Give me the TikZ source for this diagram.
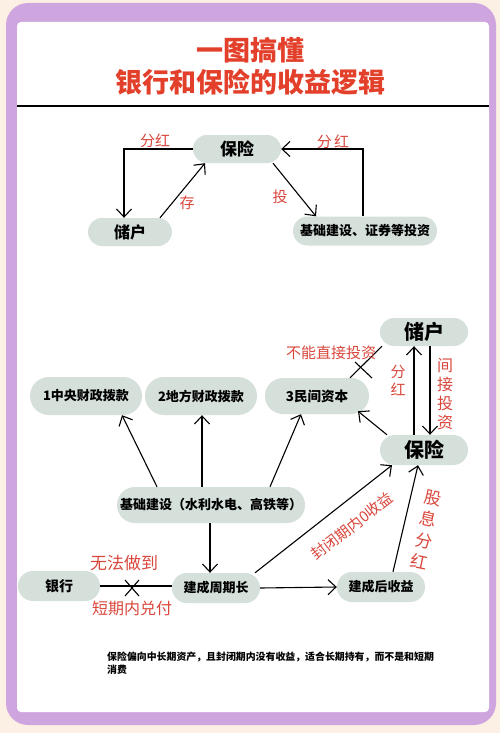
\documentclass[tikz,border=0pt]{standalone}
\usepackage{fontspec}
\newfontfamily\cjk{Noto Sans CJK SC}
\usetikzlibrary{arrows.meta}
\definecolor{cream}{HTML}{FCEFE3}
\definecolor{frame}{HTML}{CFA5E0}
\definecolor{nodefill}{HTML}{D5E0DB}
\definecolor{titlered}{HTML}{E3402B}
\definecolor{handred}{HTML}{D9473C}
\begin{document}
\begin{tikzpicture}[x=1pt,y=-1pt,
  pill/.style={fill=nodefill, inner sep=0pt, font=\cjk\bfseries, text=black},
  arr/.style={-{Straight Barb[length=8pt,width=15pt]}, line width=1.1pt},
  ln/.style={line width=1.1pt},
  hand/.style={text=handred, font=\cjk\fontsize{15}{19}\selectfont, inner sep=0pt},
  vhand/.style={hand, align=center}]
\useasboundingbox (0,0) rectangle (500,733);
% background
\fill[cream] (0,0) rectangle (500,733);
\fill[frame, rounded corners=22pt] (6,3) rectangle (496,725);
\fill[white, rounded corners=4pt] (17,22) rectangle (489,712);
\draw[line width=1.2pt] (17,106) -- (489,106);
% title
\node[text=titlered, font=\cjk\bfseries\fontsize{27}{32}\selectfont, inner sep=0pt] (t1) at (250,50) {一图搞懂};
\node[text=titlered, font=\cjk\bfseries\fontsize{27}{32}\selectfont, inner sep=0pt] (t2) at (250,82) {银行和保险的收益逻辑};

% ---- top diagram ----
\node[pill, minimum width=88pt, minimum height=28pt, rounded corners=13.9pt, font=\cjk\bfseries\fontsize{17}{20}\selectfont] (bx) at (237,149) {保险};
\node[pill, minimum width=84pt, minimum height=28pt, rounded corners=13.9pt, font=\cjk\bfseries\fontsize{16}{20}\selectfont] (ch) at (130,232) {储户};
\node[pill, minimum width=144pt, minimum height=29pt, rounded corners=14.4pt, font=\cjk\bfseries\fontsize{13}{16}\selectfont] (jc) at (365,231) {基础建设、证券等投资};

\draw[arr] (bx.west) -| ([xshift=-6pt]ch.north);
\draw[arr] ([xshift=30pt]ch.north) -- ([xshift=-32pt]bx.south);
\draw[arr] ([xshift=36pt]bx.south) -- ([xshift=-49pt]jc.north);
\draw[arr] ([xshift=-2pt]jc.north) |- (bx.east);

\node[hand] (l1) at (155,141) {分红};
\node[hand] (l2) at (333,142) {分\,红};
\node[hand] (l3) at (187,203) {存};
\node[hand] (l4) at (280,197) {投};

% ---- bottom diagram ----
\node[pill, minimum width=88pt, minimum height=28pt, rounded corners=13.9pt, font=\cjk\bfseries\fontsize{20}{24}\selectfont] (cu) at (424,332) {储户};
\node[pill, minimum width=88pt, minimum height=30pt, rounded corners=14.9pt, font=\cjk\bfseries\fontsize{20}{24}\selectfont] (bo) at (424,450) {保险};
\node[pill, minimum width=112pt, minimum height=38pt, rounded corners=18.9pt, font=\cjk\bfseries\fontsize{13}{16}\selectfont] (c1) at (86,396) {1中央财政拨款};
\node[pill, minimum width=112pt, minimum height=38pt, rounded corners=18.9pt, font=\cjk\bfseries\fontsize{13}{16}\selectfont] (c2) at (201,396) {2地方财政拨款};
\node[pill, minimum width=104pt, minimum height=36pt, rounded corners=17.9pt, font=\cjk\bfseries\fontsize{13.5}{16}\selectfont] (c3) at (317,396) {3民间资本};
\node[pill, minimum width=188pt, minimum height=36pt, rounded corners=17.9pt, font=\cjk\bfseries\fontsize{13}{16}\selectfont] (jj) at (211,505) {基础建设（水利水电、高铁等）};
\node[pill, minimum width=82pt, minimum height=30pt, rounded corners=14.9pt, font=\cjk\bfseries\fontsize{14}{16}\selectfont] (yh) at (59,586) {银行};
\node[pill, minimum width=88pt, minimum height=30pt, rounded corners=14.9pt, font=\cjk\bfseries\fontsize{13}{16}\selectfont] (zq) at (216,588) {建成周期长};
\node[pill, minimum width=88pt, minimum height=30pt, rounded corners=14.9pt, font=\cjk\bfseries\fontsize{13}{16}\selectfont] (sy) at (381,587) {建成后收益};

\draw[arr] ([xshift=-54pt]jj.north) -- ([xshift=36pt]c1.south);
\draw[arr] ([xshift=-9pt]jj.north) -- ([xshift=1pt]c2.south);
\draw[arr] ([xshift=59pt]jj.north) -- ([xshift=-16pt]c3.south);
\draw[arr] ([xshift=-37pt]bo.north) -- ([xshift=41pt,yshift=3pt]c3.south);
\draw[ln] ([xshift=33pt]c3.north) -- ([xshift=-42pt]cu.south);
\coordinate (x1) at (363,370);
\draw[ln] ([xshift=-8pt,yshift=8pt]x1) -- ([xshift=9pt,yshift=-8pt]x1);
\draw[arr] ([xshift=-10pt]bo.north) -- ([xshift=-10pt]cu.south);
\draw[arr] ([xshift=6pt]cu.south) -- ([xshift=6pt]bo.north);
\draw[arr] ([xshift=-1pt]jj.south) -- ([xshift=-6pt]zq.north);
\draw[ln] (yh.east) -- (yh.east -| zq.west);
\coordinate (x2) at (132,588);
\draw[ln] ([xshift=-7pt,yshift=8pt]x2) -- ([xshift=7pt,yshift=-8pt]x2);
\draw[ln] ([xshift=-7pt,yshift=-8pt]x2) -- ([xshift=7pt,yshift=8pt]x2);
\draw[arr] (zq.east) -- (sy.west);
\draw[arr] ([xshift=39pt]zq.north) -- ([xshift=-32pt]bo.south);
\draw[arr] ([xshift=12pt]sy.north) -- ([xshift=-6pt]bo.south);

\node[hand] (l5) at (331,353) {不能直接投资};
\node[vhand, font=\cjk\fontsize{15}{18}\selectfont] (l6) at (398,381) {分\\红};
\node[vhand, font=\cjk\fontsize{16}{19}\selectfont] (l7) at (445,394) {间\\接\\投\\资};
\node[hand, font=\cjk\fontsize{17}{20}\selectfont] (l8) at (124,563) {无法做到};
\node[hand, font=\cjk\fontsize{16}{20}\selectfont] (l9) at (132,608) {短期内兑付};
\node[hand, font=\cjk\fontsize{15}{18}\selectfont, rotate=38] (l10) at (352,526) {封闭期内0收益};
\node[vhand, font=\cjk\fontsize{17}{22}\selectfont, rotate=-12] (l11) at (426,530) {股\\息\\分\\红};

% bottom note
\node[anchor=north west, align=left, inner sep=0pt, font=\cjk\bfseries\fontsize{9.9}{13}\selectfont] (note) at (107,652) {保险偏向中长期资产，且封闭期内没有收益，适合长期持有，而不是和短期\\消费};
\end{tikzpicture}
\end{document}
